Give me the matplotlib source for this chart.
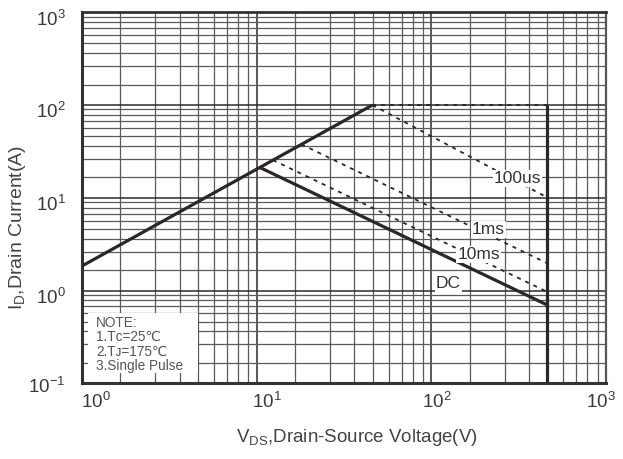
import matplotlib
matplotlib.use("Agg")
import matplotlib.pyplot as plt
import matplotlib.transforms as mtrans
from matplotlib.patches import Rectangle
from matplotlib.ticker import FixedLocator, NullFormatter

plt.rcParams["font.family"] = ["Liberation Sans", "DejaVu Sans"]
plt.rcParams["mathtext.fontset"] = "custom"
plt.rcParams["mathtext.rm"] = "Liberation Sans"
plt.rcParams["mathtext.it"] = "Liberation Sans"

# Safe operating area boundaries: drain-source voltage (V) / drain current (A)
rds_v = [1.0, 46.0]
rds_i = [1.84, 100.0]
dc_v = [10.5, 460.0]
dc_i = [21.1, 0.70]
us100_v = [46.0, 460.0]
us100_i = [100.0, 10.1]
ms1_v = [18.0, 460.0]
ms1_i = [37.8, 1.97]
ms10_v = [12.4, 460.0]
ms10_i = [25.5, 0.97]
limit_v = [46.0, 460.0]
limit_i = [100.0, 100.0]
vmax_v = [460.0, 460.0]
vmax_i = [0.1, 100.0]

# Curve annotations
curve_names = ["100us", "1ms", "10ms", "DC"]
name_v = [311, 212, 187, 125]
name_i = [16.1, 4.55, 2.45, 1.18]

# Axis decades and chart-paper grid steps within each decade
x_decades = [1e0, 1e1, 1e2, 1e3]
y_decades = [1e-1, 1e0, 1e1, 1e2, 1e3]
x_ticklabels = ["0", "1", "2", "3"]
y_ticklabels = ["-1", "0", "1", "2", "3"]
grid_steps = [1.66, 2.63, 3.63, 4.62, 5.69, 6.76, 7.82, 8.97]

note_lines = ["NOTE:", "1.T\u1d04=25\u2103", "2.T\u1d0a=175\u2103", "3.Single Pulse"]

W, H = 623, 459
fig = plt.figure(figsize=(W / 100, H / 100), dpi=100)
ax = fig.add_axes([82 / W, (H - 383.3) / H, 524 / W, 371 / H])
ax.set_xscale("log")
ax.set_yscale("log")
ax.set_xlim(x_decades[0], x_decades[-1])
ax.set_ylim(y_decades[0], y_decades[-1])

ax.xaxis.set_major_locator(FixedLocator(x_decades))
ax.yaxis.set_major_locator(FixedLocator(y_decades))
ax.xaxis.set_minor_locator(FixedLocator([d * s for d in x_decades[:-1] for s in grid_steps]))
ax.yaxis.set_minor_locator(FixedLocator([d * s for d in y_decades[:-1] for s in grid_steps]))
ax.xaxis.set_minor_formatter(NullFormatter())
ax.yaxis.set_minor_formatter(NullFormatter())
ax.set_xticklabels([r"$\mathregular{10^{%s}}$" % e for e in x_ticklabels])
ax.set_yticklabels([r"$\mathregular{10^{%s}}$" % e for e in y_ticklabels])

ax.grid(which="major", color="#2b2b2b", lw=1.1)
ax.grid(which="minor", color="#5a5a5a", lw=0.9)
ax.tick_params(which="both", length=0, colors="#3a3a3a")
ax.tick_params(axis="x", labelsize=13.5, pad=6)
ax.tick_params(axis="y", labelsize=13.5, pad=12)

# Tick labels are spaced a little tighter than the decades they mark
x_label_shift = [14, 10, 5, -5]
y_label_shift = [-2, -5, -5, -5, -6]
for lab, dx in zip(ax.get_xticklabels(), x_label_shift):
    lab.set_transform(lab.get_transform() + mtrans.ScaledTranslation(dx / 100, 0, fig.dpi_scale_trans))
for lab, dy in zip(ax.get_yticklabels(), y_label_shift):
    lab.set_transform(lab.get_transform() + mtrans.ScaledTranslation(0, dy / 100, fig.dpi_scale_trans))

for side, lw, col in [("left", 2.2, "#333333"), ("bottom", 2.2, "#333333"),
                      ("top", 2.0, "#333333"), ("right", 1.6, "#555555")]:
    ax.spines[side].set_linewidth(lw)
    ax.spines[side].set_color(col)

solid = dict(color="#2e2626", lw=2.3, solid_capstyle="butt", zorder=3)
dotted = dict(color="#2e2626", lw=1.3, ls=(0, (2.2, 2.8)), zorder=3)

ax.plot(rds_v, rds_i, **solid)
ax.plot(dc_v, dc_i, **solid)
ax.plot(vmax_v, vmax_i, **solid)
ax.plot(limit_v, limit_i, **dotted)
ax.plot(us100_v, us100_i, **dotted)
ax.plot(ms1_v, ms1_i, **dotted)
ax.plot(ms10_v, ms10_i, **dotted)

for name, v, i in zip(curve_names, name_v, name_i):
    ax.text(v, i, name, fontsize=12.5, color="#333333", ha="center", va="center",
            family=["Liberation Sans Narrow", "Liberation Sans"], zorder=5,
            bbox=dict(facecolor="white", edgecolor="none", pad=0.8))

# Note box
ax.add_patch(Rectangle((0.012, 0.027), 0.2094, 0.163, transform=ax.transAxes,
                       facecolor="white", edgecolor="none", zorder=4))
for k, line in enumerate(note_lines):
    ax.text(0.027, 0.163 - k * 0.039, line, transform=ax.transAxes, fontsize=9.8,
            color="#555555", ha="left", va="center", zorder=5)

fig.text(18 / W, 1 - 227 / H, r"I$_\mathregular{D}$,Drain Current(A)", rotation=90,
         ha="center", va="center", fontsize=14, color="#444444")
fig.text(357 / W, 1 - 438 / H, r"V$_\mathregular{DS}$,Drain-Source Voltage(V)",
         ha="center", va="center", fontsize=13.5, color="#444444")

fig.savefig("out.png", dpi=100, facecolor="white")
